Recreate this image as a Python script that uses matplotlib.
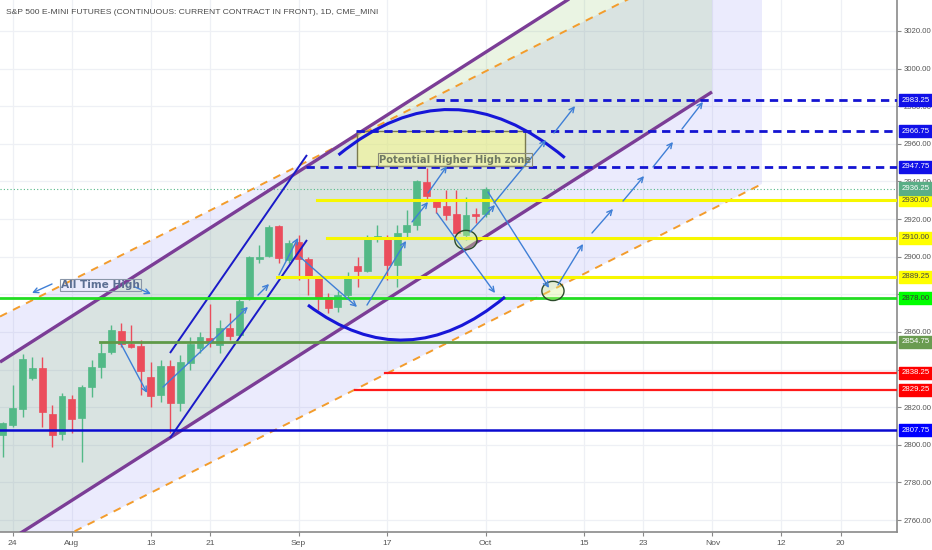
import matplotlib
matplotlib.use('Agg')
import matplotlib.pyplot as plt
import matplotlib.transforms as mtransforms
from matplotlib.patches import Rectangle, Polygon, Ellipse, PathPatch
from matplotlib.path import Path
from matplotlib import font_manager

# ---------------- data ----------------
opens = [2805.2, 2810.5, 2819.1, 2835.4, 2840.7, 2816.2, 2805.6, 2824.4, 2814.1, 2830.6,
         2841.2, 2849.2, 2860.7, 2853.6, 2852.5, 2835.9, 2826.5, 2841.9, 2822.2, 2843.4,
         2851.6, 2856.8, 2853.1, 2861.9, 2858.2, 2877.9, 2899.0, 2900.4, 2916.3, 2898.3,
         2907.7, 2899.0, 2888.9, 2878.4, 2873.4, 2879.7, 2895.2, 2892.6, 2909.4, 2909.2,
         2895.6, 2913.0, 2916.9, 2939.9, 2929.8, 2927.0, 2922.6, 2911.6, 2922.6, 2922.6]
closes = [2811.4, 2819.4, 2845.6, 2840.7, 2817.3, 2805.2, 2826.1, 2813.7, 2830.9, 2841.5,
          2849.0, 2861.1, 2853.6, 2852.2, 2839.4, 2826.1, 2841.9, 2822.4, 2844.2, 2853.6,
          2857.2, 2854.7, 2862.3, 2858.0, 2876.6, 2899.7, 2899.9, 2916.0, 2899.2, 2907.1,
          2898.8, 2889.8, 2878.2, 2872.9, 2879.7, 2889.8, 2892.4, 2909.8, 2911.2, 2895.6,
          2912.8, 2916.9, 2940.4, 2932.4, 2926.6, 2922.2, 2912.5, 2922.2, 2921.7, 2936.25]
highs = [2812.0, 2831.8, 2848.1, 2846.9, 2846.9, 2821.2, 2827.4, 2826.5, 2831.8, 2845.1,
         2854.3, 2863.7, 2864.6, 2863.7, 2855.7, 2844.2, 2845.0, 2845.0, 2848.0, 2857.5,
         2860.1, 2874.9, 2866.4, 2869.9, 2877.9, 2900.5, 2906.2, 2916.9, 2916.9, 2908.9,
         2911.6, 2900.0, 2890.0, 2880.7, 2882.0, 2892.0, 2900.0, 2911.6, 2916.9, 2911.6,
         2916.9, 2924.8, 2940.8, 2947.0, 2930.2, 2935.5, 2935.5, 2931.9, 2925.9, 2937.0]
lows = [2793.7, 2809.6, 2815.0, 2834.5, 2809.6, 2799.0, 2802.6, 2806.3, 2791.0, 2825.6,
        2835.4, 2848.3, 2852.2, 2851.5, 2826.5, 2820.3, 2823.0, 2806.3, 2818.0, 2839.8,
        2848.8, 2852.2, 2848.7, 2855.7, 2856.6, 2877.0, 2896.5, 2900.0, 2896.5, 2896.5,
        2887.6, 2879.7, 2871.7, 2869.9, 2870.6, 2878.0, 2884.1, 2892.0, 2908.0, 2887.6,
        2884.1, 2910.7, 2914.2, 2930.2, 2923.1, 2919.5, 2911.6, 2909.0, 2917.9, 2921.0]

x_tick_pos = [1, 7, 15, 21, 30, 39, 49, 59, 65, 72, 79, 85]
x_tick_labels = ['24', 'Aug', '13', '21', 'Sep', '17', 'Oct', '15', '23', 'Nov', '12', '20']
y_ticks = list(range(2760, 3021, 20))
y_hidden_labels = [2840]   # fully covered by a price box in the reference

# horizontal levels: value, start index
level_values = [2983.25, 2966.75, 2947.75, 2930.00, 2910.00, 2889.25, 2878.00, 2854.75, 2838.25, 2829.25, 2807.75]
level_starts = [43.91, 35.88, 30.81, 31.86, 32.86, 27.82, -0.3, 9.86, 38.78, 35.73, -0.3]
last_price = 2936.25

# channel anchors (bar index, price)
purple_upper = [(-0.289, 2844.0), (71.96, 3085.5)]
purple_lower = [(-0.289, 2746.1), (71.96, 2987.6)]
orange_upper = [(-0.289, 2868.2), (77.03, 3072.8)]
orange_lower = [(-0.289, 2734.0), (77.03, 2938.7)]
blue_line_a = [(16.96, 2848.8), (30.86, 2954.1)]
blue_line_b = [(16.96, 2803.6), (30.86, 2908.9)]
arc_upper = [(34.06, 2954.1), (45.54, 3003.2), (57.02, 2952.6)]
arc_lower = [(30.96, 2874.3), (40.96, 2835.0), (50.95, 2878.6)]
zone_box = (35.94, 52.98, 2948.2, 2966.75)
arrows = [  # (tail_i, tail_v, head_i, head_v)
    (4.99, 2885.5, 2.96, 2880.7), (13.41, 2883.9, 15.03, 2880.2),
    (11.99, 2853.6, 14.63, 2827.6), (16.25, 2830.7, 24.87, 2873.3),
    (25.89, 2879.6, 27.01, 2885.5), (28.02, 2890.3, 29.95, 2910.0),
    (30.15, 2899.9, 35.94, 2873.3), (36.95, 2874.3, 40.91, 2908.4),
    (41.52, 2918.5, 43.14, 2929.1), (43.14, 2933.9, 45.07, 2948.2),
    (44.05, 2923.2, 49.94, 2880.7), (47.4, 2913.1, 49.94, 2927.5),
    (49.84, 2928.6, 55.11, 2962.1), (55.93, 2965.8, 58.06, 2980.1),
    (49.23, 2934.4, 55.42, 2883.4), (56.33, 2885.0, 58.87, 2906.8),
    (59.78, 2912.6, 61.91, 2925.4), (62.93, 2929.6, 65.06, 2942.9),
    (65.97, 2947.7, 68.0, 2961.0), (68.91, 2967.9, 71.04, 2982.3),
]
circles = [(46.99, 2908.9), (55.82, 2881.8)]

# ---------------- styles ----------------
GREEN = '#53b987'
RED = '#eb4d5c'
names = {f.name for f in font_manager.fontManager.ttflist}
NARROW = 'Liberation Sans Narrow' if 'Liberation Sans Narrow' in names else 'Liberation Sans'
small = 6.6 if NARROW == 'Liberation Sans Narrow' else 5.6
title_fs = 7.6 if NARROW == 'Liberation Sans Narrow' else 6.1

level_styles = [
    dict(color='#1414d2', lw=2.0, ls=(0, (3, 2))),
    dict(color='#1414d2', lw=2.0, ls=(0, (3, 2))),
    dict(color='#1414d2', lw=2.0, ls=(0, (3, 2))),
    dict(color='#f7f700', lw=2.2, ls='-'),
    dict(color='#f7f700', lw=2.2, ls='-'),
    dict(color='#f7f700', lw=2.2, ls='-'),
    dict(color='#22dd22', lw=2.0, ls='-'),
    dict(color='#5f9a48', lw=2.0, ls='-'),
    dict(color='#ff1a1a', lw=1.6, ls='-'),
    dict(color='#ff1a1a', lw=1.6, ls='-'),
    dict(color='#0a0ad0', lw=1.8, ls='-'),
]
label_colors = ['#1010e8', '#1010e8', '#1010e8', '#ffff00', '#ffff00', '#ffff00',
                '#00ff00', '#6a9b50', '#ff0000', '#ff0000', '#0000ff']
label_text_colors = ['white', 'white', 'white', '#444444', '#444444', '#444444',
                     '#333333', 'white', 'white', 'white', 'white']

# ---------------- figure ----------------
fig = plt.figure(figsize=(9.32, 5.5), dpi=100)
ax = fig.add_axes([0, 18 / 550, 897 / 932, 532 / 550])
ax.set_xlim(-0.289, 90.73)
ax.set_ylim(2753.65, 3036.48)
ax.set_axisbelow(True)

# ticks & grid
ax.set_xticks(x_tick_pos)
ax.set_xticklabels(x_tick_labels, fontsize=small + 0.5, color='#555555', family=NARROW)
ax.set_yticks(y_ticks)
ax.set_yticklabels(['' if v in y_hidden_labels else f'{v:.2f}' for v in y_ticks],
                   fontsize=small, color='#555555', family=NARROW)
ax.yaxis.tick_right()
ax.grid(True, color='#eef0f5', lw=0.9)
ax.tick_params(axis='y', length=3, color='#888888', pad=2)
ax.tick_params(axis='x', length=3, color='#888888', pad=3)
for s in ['left', 'top']:
    ax.spines[s].set_visible(False)
for s in ['right', 'bottom']:
    ax.spines[s].set_color('#8a8a8a')
    ax.spines[s].set_linewidth(1.2)

# channel fills
lav = Polygon([orange_upper[0], orange_upper[1], orange_lower[1], orange_lower[0]],
              closed=True, fc=(0.42, 0.42, 0.95, 0.13), ec='none', zorder=1)
ax.add_patch(lav)
grn = Polygon([purple_upper[0], purple_upper[1], purple_lower[1], purple_lower[0]],
              closed=True, fc=(0.45, 0.72, 0.28, 0.15), ec='none', zorder=1.1)
ax.add_patch(grn)

# candles
idx = list(range(len(opens)))
colors = [GREEN if c >= o else RED for o, c in zip(opens, closes)]
ax.vlines(idx, lows, highs, colors=colors, lw=1, zorder=3)
bottoms = [min(o, c) for o, c in zip(opens, closes)]
heights = [max(abs(c - o), 0.5) for o, c in zip(opens, closes)]
ax.bar(idx, heights, bottom=bottoms, width=0.7, color=colors, edgecolor=colors, lw=0.5, zorder=3.1)

# channel lines
for pts, st in [(orange_upper, dict(color='#f39c2c', lw=1.4, ls=(0, (4, 3.5)))),
                (orange_lower, dict(color='#f39c2c', lw=1.4, ls=(0, (4, 3.5)))),
                (purple_upper, dict(color='#7b3d96', lw=2.4, ls='-')),
                (purple_lower, dict(color='#7b3d96', lw=2.4, ls='-')),
                (blue_line_a, dict(color='#1a1ac8', lw=1.4, ls='-')),
                (blue_line_b, dict(color='#1a1ac8', lw=1.4, ls='-'))]:
    ax.plot([p[0] for p in pts], [p[1] for p in pts], zorder=4, solid_capstyle='butt', **st)

# horizontal levels
xmax = ax.get_xlim()[1]
for v, s, st in zip(level_values, level_starts, level_styles):
    ax.plot([s, xmax], [v, v], zorder=4.2, **st)
ax.axhline(last_price, color=GREEN, lw=0.8, ls=(0, (1, 2)), zorder=2)

# zone box
zx0, zx1, zy0, zy1 = zone_box
ax.add_patch(Rectangle((zx0, zy0), zx1 - zx0, zy1 - zy0, fc=(1.0, 1.0, 0.45, 0.45),
                       ec='#7a7a50', lw=1.0, zorder=4.1))
ax.text(zx0 + 2.2, zy0 + 3.4, 'Potential Higher High zone', fontsize=7.2, fontweight='bold',
        color='#707a64', family='DejaVu Sans', va='center', ha='left', zorder=6,
        bbox=dict(boxstyle='square,pad=0.12', fc='none', ec='#8a8a78', lw=0.8))
ax.text(5.9, 2885.0, 'All Time High', fontsize=7.6, fontweight='bold',
        color='#5c6f93', family='DejaVu Sans', va='center', ha='left', zorder=6,
        bbox=dict(boxstyle='square,pad=0.12', fc='none', ec='#8a96a8', lw=0.8))

# arcs
for (p0, c, p2) in [arc_upper, arc_lower]:
    path = Path([p0, c, p2], [Path.MOVETO, Path.CURVE3, Path.CURVE3])
    ax.add_patch(PathPatch(path, fc='none', ec='#1616d8', lw=2.2, zorder=4.5))

# circles
for (ci, cv) in circles:
    ax.add_patch(Ellipse((ci, cv), width=2.25, height=10.2, fc=(0.85, 0.95, 0.55, 0.35),
                         ec='#2b4a2b', lw=1.0, zorder=4.6))

# arrows
for (ti, tv, hi, hv) in arrows:
    ax.annotate('', xy=(hi, hv), xytext=(ti, tv),
                arrowprops=dict(arrowstyle='->', color='#3f7fd6', lw=1.0,
                                mutation_scale=9, shrinkA=0, shrinkB=0), zorder=5)

# price labels on axis
trans = mtransforms.blended_transform_factory(ax.transAxes, ax.transData)
for v, bc, tc in zip(level_values, label_colors, label_text_colors):
    ax.text(1.0055, v, f'{v:.2f}', transform=trans, ha='left', va='center', fontsize=small,
            family=NARROW, color=tc, clip_on=False, zorder=10,
            bbox=dict(boxstyle='square,pad=0.34', fc=bc, ec=bc))
ax.text(1.0055, last_price, f'{last_price:.2f}', transform=trans, ha='left', va='center',
        fontsize=small, family=NARROW, color='white', clip_on=False, zorder=10,
        bbox=dict(boxstyle='square,pad=0.34', fc='#5aae86', ec='#5aae86'))

# title
fig.text(6 / 932, 1 - 12 / 550, 'S&P 500 E-MINI FUTURES (CONTINUOUS: CURRENT CONTRACT IN FRONT), 1D, CME_MINI',
         fontsize=title_fs, color='#4a4a4a', family=NARROW, ha='left', va='center')

fig.savefig('out.png', dpi=100)
